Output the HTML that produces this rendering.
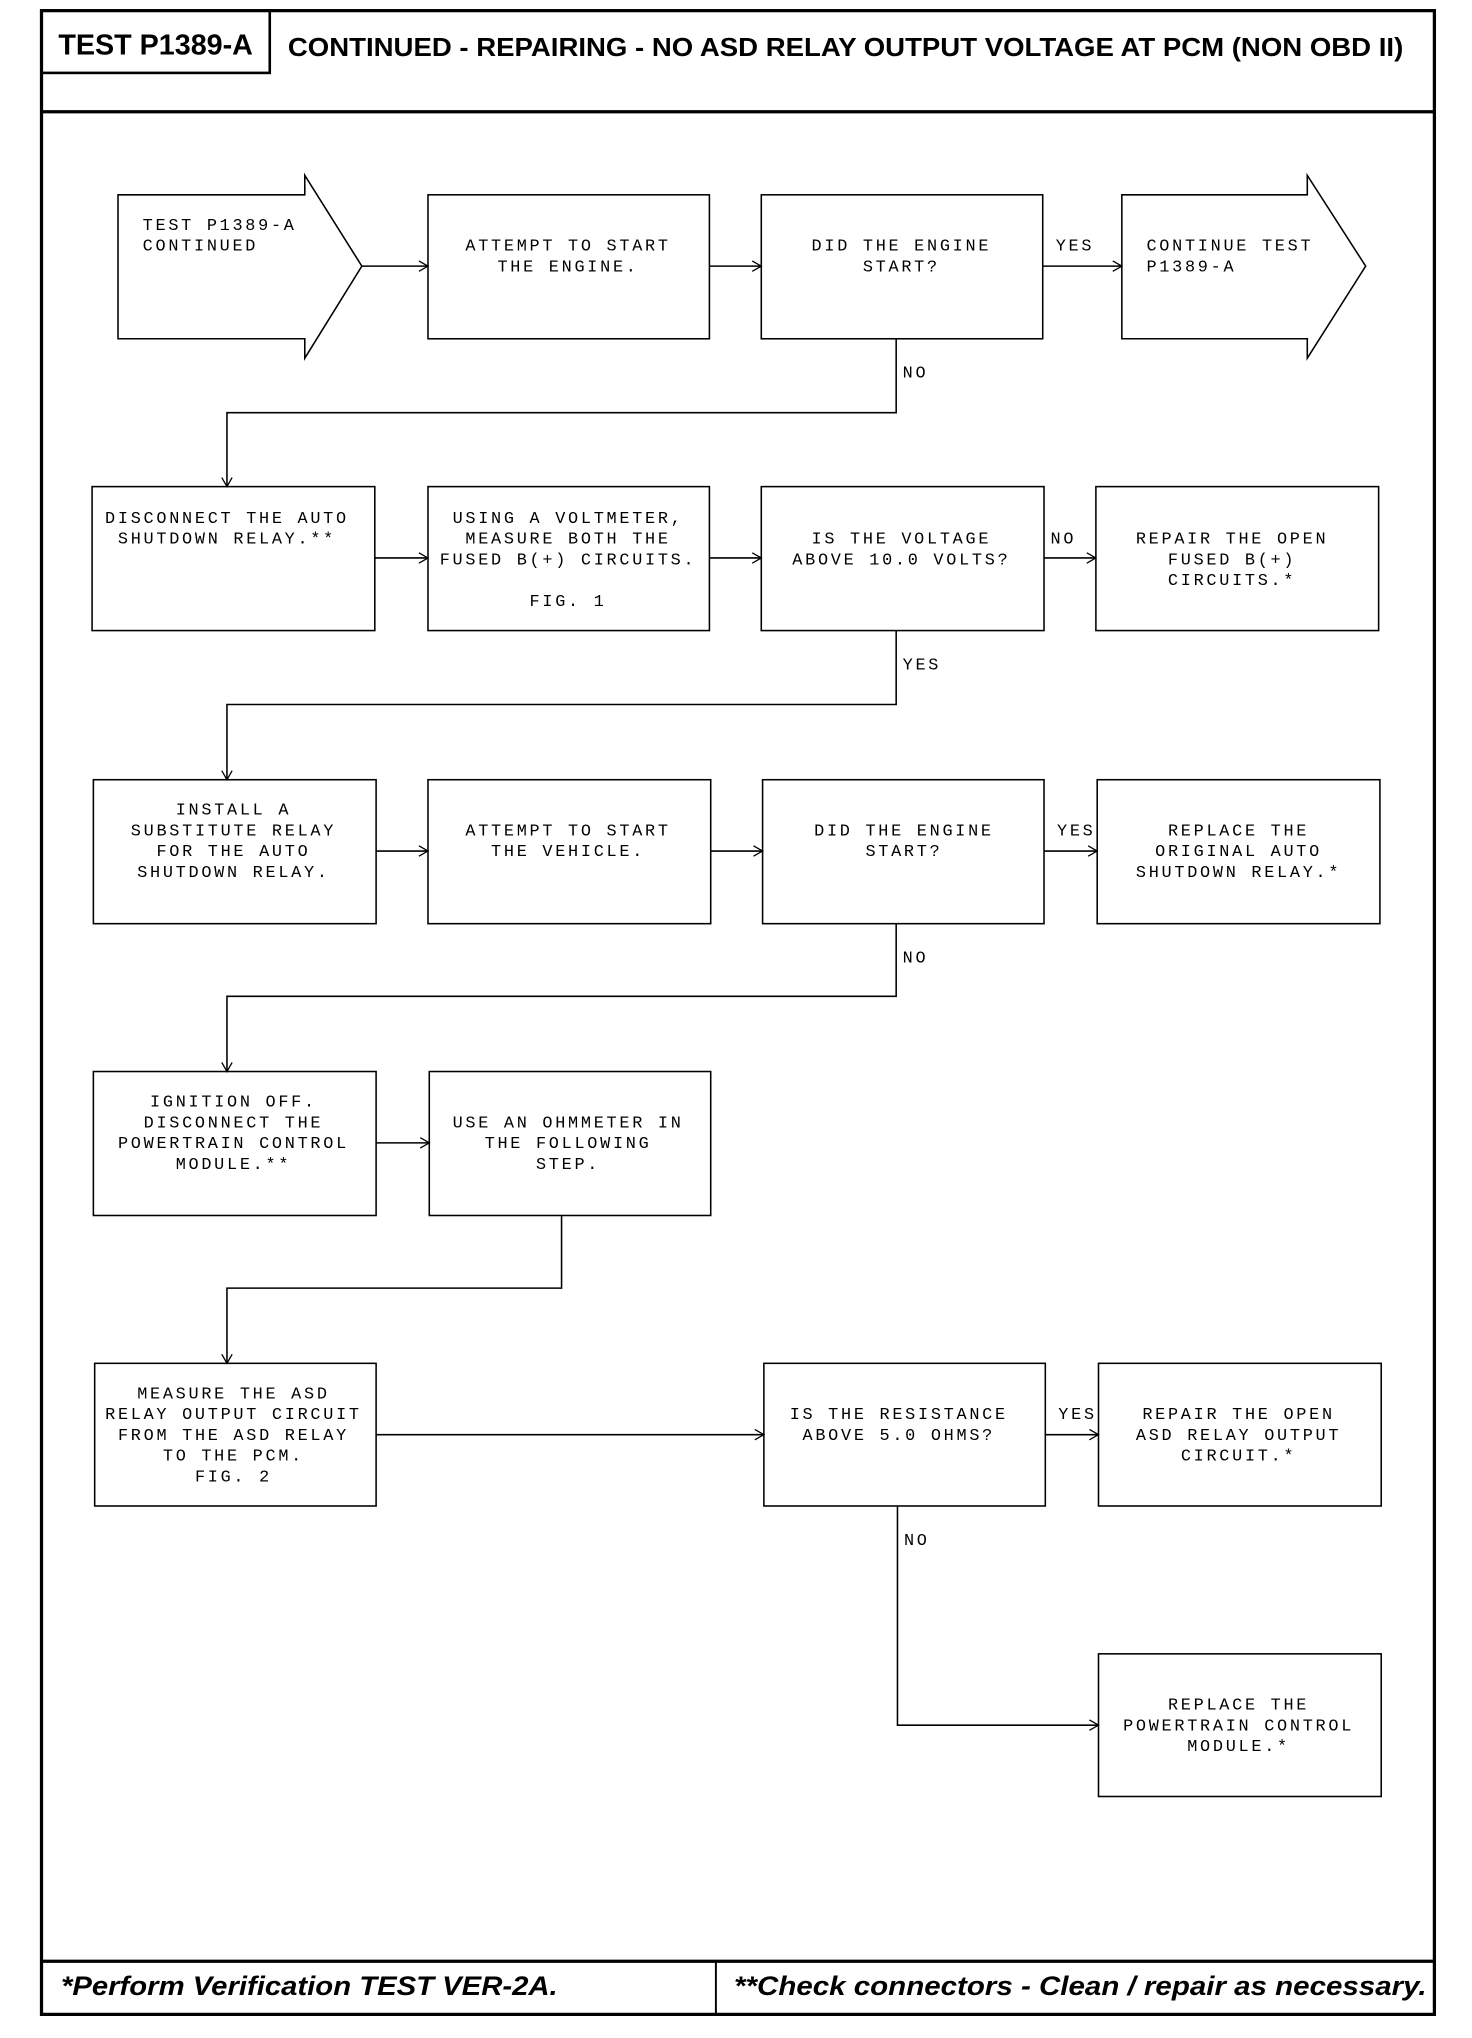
<!DOCTYPE html>
<html><head><meta charset="utf-8"><style>
html,body{margin:0;padding:0;background:#fff;}
svg{display:block;}
.t{font-family:"Liberation Mono",monospace;font-size:13px;letter-spacing:2.1px;fill:#000;}
.h{font-family:"Liberation Sans",sans-serif;font-weight:bold;fill:#000;}
</style></head><body>
<svg width="1472" height="2038" viewBox="0 0 1135 1571" xmlns="http://www.w3.org/2000/svg">
<defs><marker id="a" markerWidth="10" markerHeight="10" refX="9" refY="5" orient="auto" markerUnits="userSpaceOnUse"><polyline points="2,1 9,5 2,9" fill="none" stroke="#000" stroke-width="1"/></marker></defs>
<g fill="none" stroke="#000">
<rect x="32" y="8" width="1074" height="1545" stroke-width="2.5"/>
<rect x="32" y="8" width="176" height="48" stroke-width="2"/>
<line x1="32" y1="86" x2="1106" y2="86" stroke-width="2.5"/>
<line x1="32" y1="1512" x2="1106" y2="1512" stroke-width="2.5"/>
<line x1="552" y1="1512" x2="552" y2="1553" stroke-width="1.5"/>
<g stroke-width="1.2">
<polygon points="91,150 235,150 235,135 279,205 235,276 235,261 91,261"/>
<polygon points="865,150 1008,150 1008,135 1053,205 1008,276 1008,261 865,261"/>
<rect x="330" y="150" width="217" height="111"/>
<rect x="587" y="150" width="217" height="111"/>
<rect x="71" y="375" width="218" height="111"/>
<rect x="330" y="375" width="217" height="111"/>
<rect x="587" y="375" width="218" height="111"/>
<rect x="845" y="375" width="218" height="111"/>
<rect x="72" y="601" width="218" height="111"/>
<rect x="330" y="601" width="218" height="111"/>
<rect x="588" y="601" width="217" height="111"/>
<rect x="846" y="601" width="218" height="111"/>
<rect x="72" y="826" width="218" height="111"/>
<rect x="331" y="826" width="217" height="111"/>
<rect x="73" y="1051" width="217" height="110"/>
<rect x="589" y="1051" width="217" height="110"/>
<rect x="847" y="1051" width="218" height="110"/>
<rect x="847" y="1275" width="218" height="110"/>
</g>
<g stroke-width="1.2" marker-end="url(#a)">
<line x1="279" y1="205" x2="330" y2="205"/>
<line x1="547" y1="205" x2="587" y2="205"/>
<line x1="804" y1="205" x2="865" y2="205"/>
<polyline points="691,261 691,318 175,318 175,375"/>
<line x1="289" y1="430" x2="330" y2="430"/>
<line x1="547" y1="430" x2="587" y2="430"/>
<line x1="805" y1="430" x2="845" y2="430"/>
<polyline points="691,486 691,543 175,543 175,601"/>
<line x1="290" y1="656" x2="330" y2="656"/>
<line x1="548" y1="656" x2="588" y2="656"/>
<line x1="805" y1="656" x2="846" y2="656"/>
<polyline points="691,712 691,768 175,768 175,826"/>
<line x1="290" y1="881" x2="331" y2="881"/>
<polyline points="433,937 433,993 175,993 175,1051"/>
<line x1="290" y1="1106" x2="589" y2="1106"/>
<line x1="806" y1="1106" x2="847" y2="1106"/>
<polyline points="692,1161 692,1330 847,1330"/>
</g>
</g>
<text class="h" x="120" y="42" font-size="22" text-anchor="middle" textLength="150" lengthAdjust="spacingAndGlyphs">TEST P1389-A</text>
<text class="h" x="222" y="43" font-size="20" textLength="860" lengthAdjust="spacingAndGlyphs">CONTINUED - REPAIRING - NO ASD RELAY OUTPUT VOLTAGE AT PCM (NON OBD II)</text>
<text class="h" x="47" y="1538" font-size="21" font-style="italic" textLength="383" lengthAdjust="spacingAndGlyphs">*Perform Verification TEST VER-2A.</text>
<text class="h" x="566" y="1538" font-size="21" font-style="italic" textLength="534" lengthAdjust="spacingAndGlyphs">**Check connectors - Clean / repair as necessary.</text>
<g class="t">
<text x="110" y="177">TEST P1389-A</text><text x="110" y="193">CONTINUED</text>
<text x="884" y="193">CONTINUE TEST</text><text x="884" y="209">P1389-A</text>
<text x="814" y="193">YES</text><text x="696" y="291">NO</text>
<text x="810" y="419">NO</text><text x="696" y="516">YES</text>
<text x="815" y="644">YES</text><text x="696" y="742">NO</text>
<text x="816" y="1094">YES</text><text x="697" y="1191">NO</text>
</g>
<g class="t" text-anchor="middle">
<text x="438" y="193">ATTEMPT TO START</text><text x="438" y="209">THE ENGINE.</text>
<text x="695" y="193">DID THE ENGINE</text><text x="695" y="209">START?</text>
<text x="175" y="403">DISCONNECT THE AUTO</text><text x="175" y="419">SHUTDOWN RELAY.**</text>
<text x="438" y="403">USING A VOLTMETER,</text><text x="438" y="419">MEASURE BOTH THE</text><text x="438" y="435">FUSED B(+) CIRCUITS.</text><text x="438" y="467">FIG. 1</text>
<text x="695" y="419">IS THE VOLTAGE</text><text x="695" y="435">ABOVE 10.0 VOLTS?</text>
<text x="950" y="419">REPAIR THE OPEN</text><text x="950" y="435">FUSED B(+)</text><text x="950" y="451">CIRCUITS.*</text>
<text x="180" y="628">INSTALL A</text><text x="180" y="644">SUBSTITUTE RELAY</text><text x="180" y="660">FOR THE AUTO</text><text x="180" y="676">SHUTDOWN RELAY.</text>
<text x="438" y="644">ATTEMPT TO START</text><text x="438" y="660">THE VEHICLE.</text>
<text x="697" y="644">DID THE ENGINE</text><text x="697" y="660">START?</text>
<text x="955" y="644">REPLACE THE</text><text x="955" y="660">ORIGINAL AUTO</text><text x="955" y="676">SHUTDOWN RELAY.*</text>
<text x="180" y="853">IGNITION OFF.</text><text x="180" y="869">DISCONNECT THE</text><text x="180" y="885">POWERTRAIN CONTROL</text><text x="180" y="901">MODULE.**</text>
<text x="438" y="869">USE AN OHMMETER IN</text><text x="438" y="885">THE FOLLOWING</text><text x="438" y="901">STEP.</text>
<text x="180" y="1078">MEASURE THE ASD</text><text x="180" y="1094">RELAY OUTPUT CIRCUIT</text><text x="180" y="1110">FROM THE ASD RELAY</text><text x="180" y="1126">TO THE PCM.</text><text x="180" y="1142">FIG. 2</text>
<text x="693" y="1094">IS THE RESISTANCE</text><text x="693" y="1110">ABOVE 5.0 OHMS?</text>
<text x="955" y="1094">REPAIR THE OPEN</text><text x="955" y="1110">ASD RELAY OUTPUT</text><text x="955" y="1126">CIRCUIT.*</text>
<text x="955" y="1318">REPLACE THE</text><text x="955" y="1334">POWERTRAIN CONTROL</text><text x="955" y="1350">MODULE.*</text>
</g>
</svg>
</body></html>
